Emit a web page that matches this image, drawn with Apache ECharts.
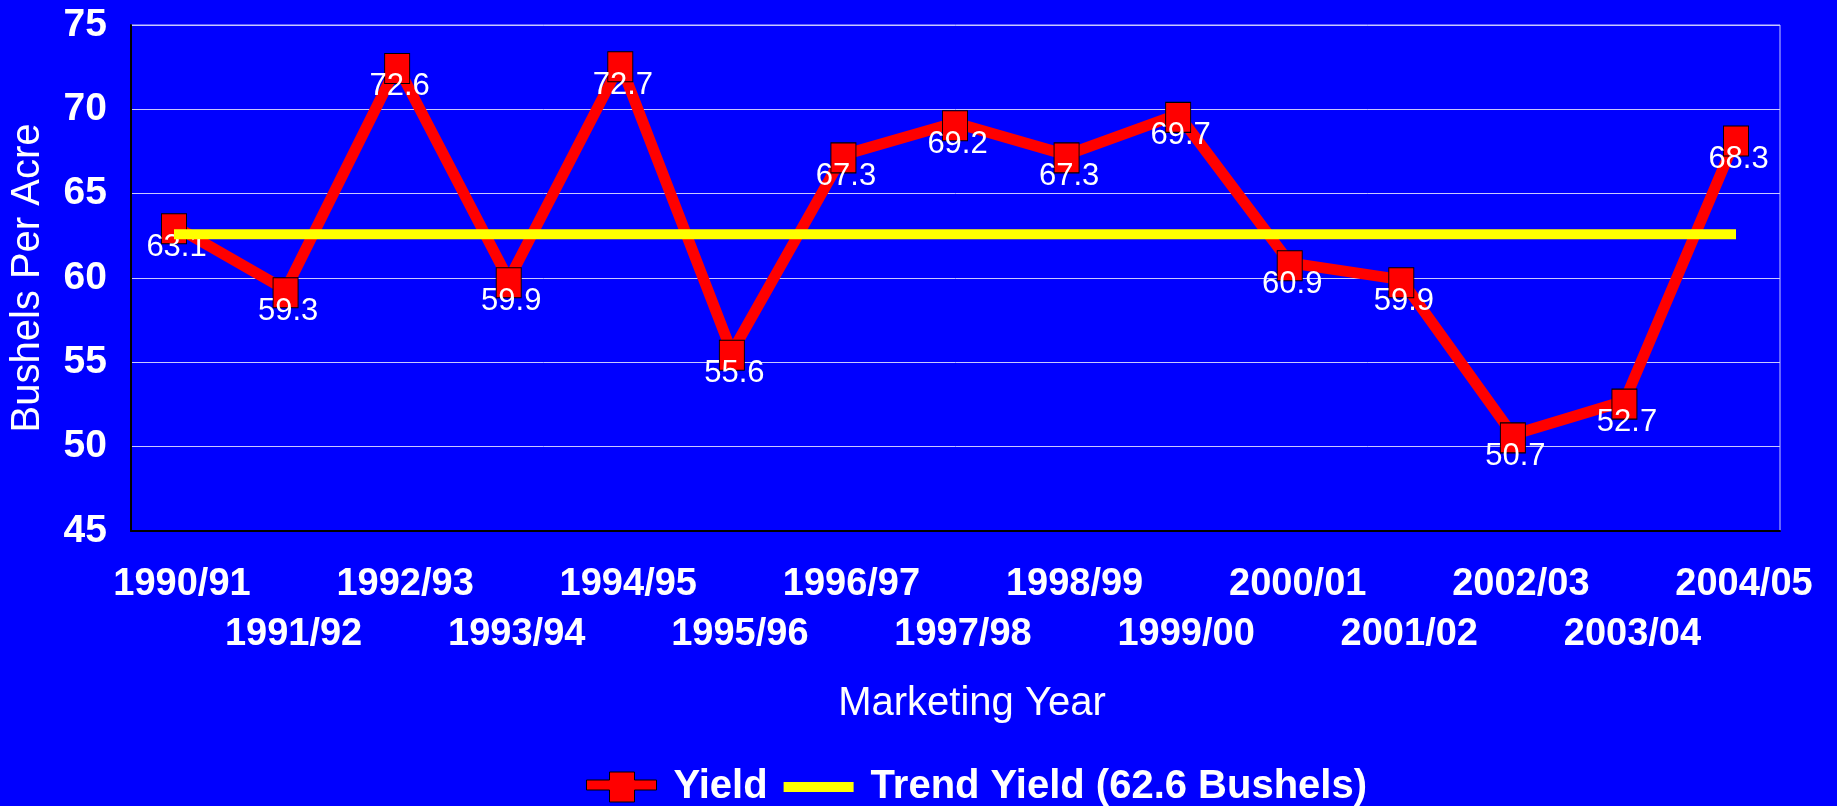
<!DOCTYPE html>
<html>
<head>
<meta charset="utf-8">
<script src="https://cdn.jsdelivr.net/npm/echarts@6/dist/echarts.min.js"></script>
<style>
  html, body { margin: 0; padding: 0; background: #0000ff; }
  #main { width: 1837px; height: 806px; }
</style>
</head>
<body>
<div id="main"></div>
<script>
var years = ['1990/91', '1991/92', '1992/93', '1993/94', '1994/95', '1995/96', '1996/97',
             '1997/98', '1998/99', '1999/00', '2000/01', '2001/02', '2002/03', '2003/04', '2004/05'];
var yieldValues = [63.1, 59.3, 72.6, 59.9, 72.7, 55.6, 67.3, 69.2, 67.3, 69.7, 60.9, 59.9, 50.7, 52.7, 68.3];
var trendValues = [62.6, 62.6, 62.6, 62.6, 62.6, 62.6, 62.6, 62.6, 62.6, 62.6, 62.6, 62.6, 62.6, 62.6, 62.6];
var yTicks = [45, 50, 55, 60, 65, 70, 75];

var font = 'Liberation Sans, Arial, sans-serif';
var myChart = echarts.init(document.getElementById('main'));

var option = {
    backgroundColor: '#0000ff',
    textStyle: { fontFamily: font },
    grid: [
        // frame with grid lines
        { left: 129, right: 57, top: 25, bottom: 275, show: true, borderColor: '#c8c8ff', borderWidth: 1, backgroundColor: 'transparent' },
        // data area
        { left: 174, right: 101, top: 25, bottom: 275 }
    ],
    xAxis: [
        {
            type: 'value', gridIndex: 0, min: 0, max: 1,
            axisLabel: { show: false }, axisTick: { show: false }, splitLine: { show: false },
            axisLine: { show: true, lineStyle: { color: '#000000', width: 2 } }
        },
        {
            type: 'category', gridIndex: 1, data: years, boundaryGap: false,
            axisLine: { show: false }, axisTick: { show: false },
            axisLabel: {
                interval: 0, color: '#ffffff', fontSize: 38, fontWeight: 'bold', fontFamily: font,
                lineHeight: 50, margin: 29, padding: [0, 0, 0, 16],
                formatter: function (v, i) { return i % 2 ? '\n' + v : v; }
            },
            name: 'Marketing Year', nameLocation: 'middle', nameGap: 153,
            nameTextStyle: { color: '#ffffff', fontSize: 40, fontFamily: font, padding: [0, 0, 0, 34] }
        }
    ],
    yAxis: [
        {
            type: 'value', gridIndex: 0, min: yTicks[0], max: yTicks[yTicks.length - 1], interval: 5,
            axisLine: { show: true, lineStyle: { color: '#000000', width: 2 } },
            axisTick: { show: false },
            axisLabel: { color: '#ffffff', fontSize: 39, fontWeight: 'bold', fontFamily: font, margin: 24 },
            splitLine: { show: true, lineStyle: { color: '#c8c8ff', width: 1 } },
            name: 'Bushels Per Acre', nameLocation: 'middle', nameGap: 83,
            nameTextStyle: { color: '#ffffff', fontSize: 40, fontFamily: font }
        },
        {
            type: 'value', gridIndex: 1, min: 45, max: 75, show: false, splitLine: { show: false }
        }
    ],
    legend: {
        left: 581, top: 762,
        itemWidth: 70, itemHeight: 30, itemGap: 16,
        symbolKeepAspect: true,
        textStyle: { color: '#ffffff', fontSize: 40, fontWeight: 'bold', fontFamily: font, padding: [0, 0, 0, 12] },
        data: [
            {
                name: 'Yield',
                icon: 'path://M0,8H23V0H48V8H70V18H48V30H23V18H0Z',
                itemStyle: { color: '#ff0000', borderColor: '#000000', borderWidth: 1 }
            },
            {
                name: 'Trend Yield (62.6 Bushels)',
                icon: 'path://M0,0H70V10H0Z',
                itemStyle: { color: '#ffff00', borderWidth: 0 }
            }
        ]
    },
    series: [
        {
            name: 'Yield', type: 'line', xAxisIndex: 1, yAxisIndex: 1,
            data: yieldValues,
            symbol: 'rect', symbolSize: [25, 30], symbolOffset: [0, 3],
            itemStyle: { color: '#ff0000', borderColor: '#000000', borderWidth: 1 },
            lineStyle: { color: '#ff0000', width: 11 },
            label: {
                show: true, position: [15.5, 34], align: 'center', verticalAlign: 'middle',
                color: '#ffffff', fontSize: 31, fontFamily: font
            },
            labelLayout: { hideOverlap: false },
            z: 2
        },
        {
            name: 'Trend Yield (62.6 Bushels)', type: 'line', xAxisIndex: 1, yAxisIndex: 1,
            data: trendValues,
            symbol: 'none',
            itemStyle: { color: '#ffff00' },
            lineStyle: { color: '#ffff00', width: 10 },
            silent: true,
            z: 3
        }
    ]
};

myChart.setOption(option);
</script>
</body>
</html>
